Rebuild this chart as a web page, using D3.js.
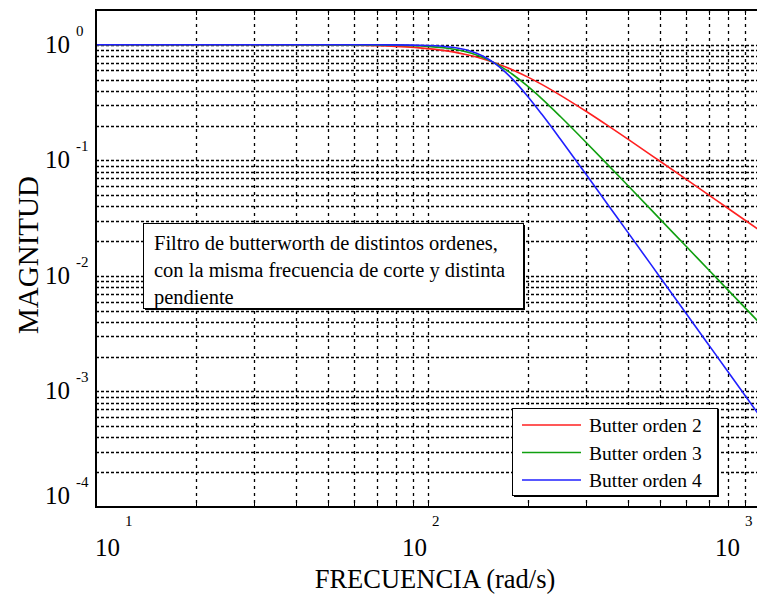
<!DOCTYPE html>
<html>
<head>
<meta charset="utf-8">
<script src="https://cdn.jsdelivr.net/npm/d3@7/dist/d3.min.js"></script>
<style>
  body { margin: 0; background: #fff; }
  svg { display: block; font-family: "Liberation Serif", "Times New Roman", serif; }
</style>
</head>
<body>
<script>
var frecuencias = [10, 30, 60, 80, 100, 120, 130, 140, 150, 160, 170, 180, 200, 220, 250, 300, 350, 400, 500, 600, 700, 800, 1000];
var ordenDos    = [1.000, 0.9993, 0.9895, 0.968, 0.9266, 0.8636, 0.825, 0.7832, 0.7389, 0.6937, 0.6493, 0.6058, 0.525, 0.4542, 0.367, 0.2644, 0.1975, 0.1525, 0.0982, 0.0684, 0.0503, 0.0385, 0.0247];
var ordenTres   = [1.000, 1.000, 0.9985, 0.9914, 0.9682, 0.9133, 0.870, 0.8163, 0.7541, 0.6869, 0.6194, 0.5534, 0.4361, 0.342, 0.2406, 0.1421, 0.090, 0.0605, 0.031, 0.01794, 0.0113, 0.00757, 0.00388];
var ordenCuatro = [1.000, 1.000, 0.9998, 0.9978, 0.9867, 0.9466, 0.9053, 0.8459, 0.7689, 0.680, 0.589, 0.5016, 0.3557, 0.2515, 0.1539, 0.0749, 0.0405, 0.0238, 0.00975, 0.0047, 0.00254, 0.00149, 0.00061];

var nombres = ["Butter orden 2", "Butter orden 3", "Butter orden 4"];
var colores = ["#ff2020", "#10a010", "#2020ff"];

var xTicks = [10, 100, 1000];
var xExp = ["1", "2", "3"];
var yTicks = [1, 0.1, 0.01, 0.001, 0.0001];
var yExp = ["0", "-1", "-2", "-3", "-4"];

var nota = ["Filtro de butterworth de distintos ordenes,",
            "con la misma frecuencia de corte y distinta",
            "pendiente"];

// tamaño de la ventana y del area del grafico
var W = 757, H = 595;
var pLeft = 96, pTop = 10, pBottom = 507, pRight = 760;

var svg = d3.select("body").append("svg")
  .attr("width", W)
  .attr("height", H);

var x = d3.scaleLog().domain([10, 1000]).range([pLeft, pRight]);
var y = d3.scaleLog().domain([1e-4, 2]).range([pBottom, pTop]);

var crisp = function(v) { return Math.round(v) + 0.5; };

// rejilla
var grid = svg.append("g").attr("class", "grid");

grid.selectAll(".h")
  .data(y.ticks().filter(function(d) { return y(d) > pTop + 1 && y(d) < pBottom - 1; }))
  .enter().append("line")
  .attr("x1", pLeft).attr("x2", pRight)
  .attr("y1", function(d) { return crisp(y(d)); })
  .attr("y2", function(d) { return crisp(y(d)); })
  .attr("stroke", "#000")
  .attr("stroke-width", 1.3)
  .attr("stroke-dasharray", "3,2");

grid.selectAll(".v")
  .data(x.ticks().filter(function(d) { return x(d) > pLeft + 1; }))
  .enter().append("line")
  .attr("y1", pTop).attr("y2", pBottom)
  .attr("x1", function(d) { return crisp(x(d)); })
  .attr("x2", function(d) { return crisp(x(d)); })
  .attr("stroke", "#000")
  .attr("stroke-width", 1.3)
  .attr("stroke-dasharray", "3,4");

// pequeñas marcas solidas arriba y abajo
var marcas = x.ticks().filter(function(d) { return x(d) > pLeft + 1; });
svg.append("g").selectAll("line")
  .data(marcas)
  .enter().append("line")
  .attr("x1", function(d) { return crisp(x(d)); })
  .attr("x2", function(d) { return crisp(x(d)); })
  .attr("y1", pBottom).attr("y2", pBottom - 5)
  .attr("stroke", "#000");
svg.append("g").selectAll("line")
  .data(marcas)
  .enter().append("line")
  .attr("x1", function(d) { return crisp(x(d)); })
  .attr("x2", function(d) { return crisp(x(d)); })
  .attr("y1", pTop).attr("y2", pTop + 5)
  .attr("stroke", "#000");

// curvas
var series = [ordenDos, ordenTres, ordenCuatro];
var line = d3.line()
  .x(function(d) { return x(d[0]); })
  .y(function(d) { return y(d[1]); })
  .curve(d3.curveMonotoneX);

svg.append("g").selectAll("path")
  .data(series)
  .enter().append("path")
  .attr("d", function(s) { return line(d3.zip(frecuencias, s)); })
  .attr("fill", "none")
  .attr("stroke", function(d, i) { return colores[i]; })
  .attr("stroke-width", 1.6);

// marco
svg.append("path")
  .attr("d", "M" + pRight + "," + pTop + "H" + pLeft + "V" + pBottom + "H" + pRight)
  .attr("fill", "none")
  .attr("stroke", "#000")
  .attr("stroke-width", 2);

// etiquetas eje y
var yl = svg.append("g").selectAll("g")
  .data(yTicks)
  .enter().append("g")
  .attr("transform", function(d) { return "translate(0," + Math.min(y(d), 496) + ")"; });
yl.append("text")
  .attr("x", 70).attr("y", 8)
  .attr("text-anchor", "end")
  .style("font-size", "25px")
  .text("10");
yl.append("text")
  .attr("x", 76).attr("y", -9)
  .style("font-size", "15px")
  .text(function(d, i) { return yExp[i]; });

// etiquetas eje x
var xl = svg.append("g").selectAll("g")
  .data(xTicks)
  .enter().append("g")
  .attr("transform", function(d) {
    return "translate(" + Math.max(95, Math.min(x(d) - 26, 715)) + ",0)";
  });
xl.append("text")
  .attr("x", 0).attr("y", 556)
  .style("font-size", "25px")
  .text("10");
xl.append("text")
  .attr("x", 30).attr("y", 526)
  .style("font-size", "15px")
  .text(function(d, i) { return xExp[i]; });

// titulos de ejes
svg.append("text")
  .attr("x", 435).attr("y", 588)
  .attr("text-anchor", "middle")
  .style("font-size", "26.5px")
  .text("FRECUENCIA (rad/s)");

svg.append("text")
  .attr("transform", "translate(38,255) rotate(-90)")
  .attr("text-anchor", "middle")
  .style("font-size", "29px")
  .text("MAGNITUD");

// cuadro de texto con sombra
function caja(g, bx, by, bw, bh) {
  g.append("rect").attr("x", bx + 2).attr("y", by + 2).attr("width", bw).attr("height", bh).attr("fill", "#000");
  g.append("rect").attr("x", bx + 0.5).attr("y", by + 0.5).attr("width", bw).attr("height", bh)
    .attr("fill", "#fff").attr("stroke", "#000").attr("stroke-width", 1);
}

var anot = svg.append("g");
caja(anot, 143, 223, 380, 85);
anot.selectAll("text")
  .data(nota)
  .enter().append("text")
  .attr("x", 154)
  .attr("y", function(d, i) { return 250 + i * 27; })
  .style("font-size", "20.5px")
  .text(function(d) { return d; });

// leyenda
var ley = svg.append("g");
caja(ley, 512, 408, 205, 87);
var item = ley.selectAll("g.item")
  .data(nombres)
  .enter().append("g")
  .attr("class", "item")
  .attr("transform", function(d, i) { return "translate(0," + (425 + i * 27.5) + ")"; });
item.append("line")
  .attr("x1", 522).attr("x2", 581)
  .attr("stroke", function(d, i) { return colores[i]; })
  .attr("stroke-width", 1.6);
item.append("text")
  .attr("x", 589).attr("y", 7)
  .style("font-size", "19.5px")
  .text(function(d) { return d; });
</script>
</body>
</html>
